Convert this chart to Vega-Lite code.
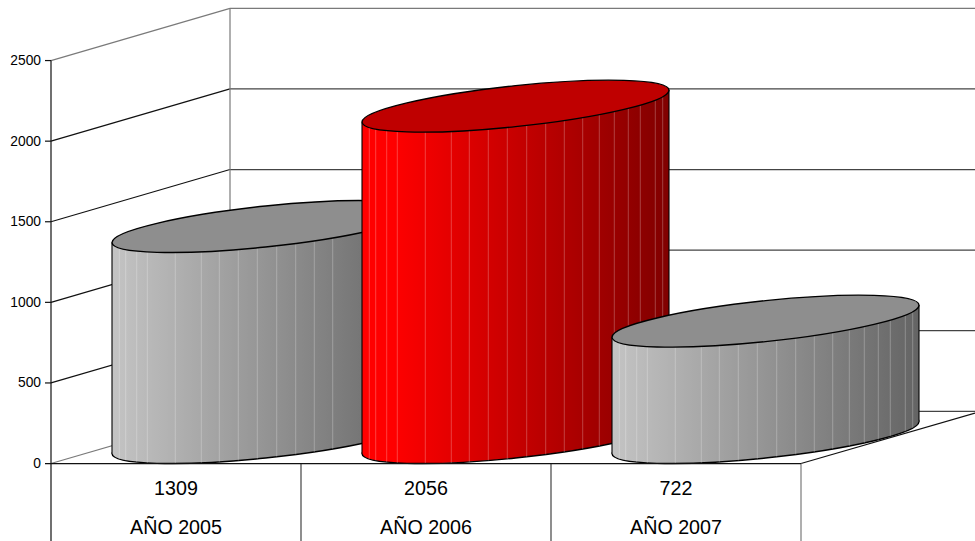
{
"$schema":"https://vega.github.io/schema/vega-lite/v6.json",
"width":975,"height":541,"padding":0,"autosize":{"type":"none"},
"background":"#ffffff",
"config":{"view":{"stroke":null},"axis":{"disable":true}},
"datasets":{
"lines":[
{"x":0,"y":0,"x2":0.716,"y2":324,"tone":"gray"},
{"x":0.716,"y":324,"x2":3.696,"y2":324,"tone":"mid"},
{"x":0,"y":500,"x2":0.716,"y2":824,"tone":"dark"},
{"x":0.716,"y":824,"x2":3.696,"y2":824,"tone":"mid"},
{"x":0,"y":1000,"x2":0.716,"y2":1324,"tone":"dark"},
{"x":0.716,"y":1324,"x2":3.696,"y2":1324,"tone":"mid"},
{"x":0,"y":1500,"x2":0.716,"y2":1824,"tone":"dark"},
{"x":0.716,"y":1824,"x2":3.696,"y2":1824,"tone":"mid"},
{"x":0,"y":2000,"x2":0.716,"y2":2324,"tone":"dark"},
{"x":0.716,"y":2324,"x2":3.696,"y2":2324,"tone":"mid"},
{"x":0,"y":2500,"x2":0.716,"y2":2824,"tone":"gray"},
{"x":0.716,"y":2824,"x2":3.696,"y2":2824,"tone":"gray"},
{"x":0.716,"y":324,"x2":0.716,"y2":2824,"tone":"gray"},
{"x":3,"y":0,"x2":3.696,"y2":313,"tone":"dark"},
{"x":0,"y":-484,"x2":0,"y2":2500,"tone":"dark"},
{"x":1,"y":-484,"x2":1,"y2":0,"tone":"mid"},
{"x":2,"y":-484,"x2":2,"y2":0,"tone":"mid"},
{"x":3,"y":-484,"x2":3,"y2":0,"tone":"gray"}
],
"base":[
{"x":-0.024,"y":0,"x2":3,"y2":0,"tone":"dark"},
{"x":-0.024,"y":500,"x2":0,"y2":500,"tone":"dark"},
{"x":-0.024,"y":1000,"x2":0,"y2":1000,"tone":"dark"},
{"x":-0.024,"y":1500,"x2":0,"y2":1500,"tone":"dark"},
{"x":-0.024,"y":2000,"x2":0,"y2":2000,"tone":"dark"},
{"x":-0.024,"y":2500,"x2":0,"y2":2500,"tone":"dark"}
],
"ticks":[{"v":0},{"v":500},{"v":1000},{"v":1500},{"v":2000},{"v":2500}],
"cyl":[
{"c":1,"cat":"AÑO 2005","v":1309,"xc":0.5},
{"c":2,"cat":"AÑO 2006","v":2056,"xc":1.5},
{"c":3,"cat":"AÑO 2007","v":722,"xc":2.5}
],
"edges":[
{"c":1,"x":0.244,"y":1371,"y2":62},
{"c":1,"x":1.472,"y":1570,"y2":261},
{"c":2,"x":1.244,"y":2118,"y2":62},
{"c":2,"x":2.472,"y":2317,"y2":261},
{"c":3,"x":2.244,"y":784,"y2":62},
{"c":3,"x":3.472,"y":983,"y2":261}
],
"facets":[
{"c":1,"x":0.2732,"y":1337,"y2":28},{"c":1,"x":0.2988,"y":1328,"y2":19},{"c":1,"x":0.3428,"y":1318,"y2":9},{"c":1,"x":0.3852,"y":1313,"y2":4},{"c":1,"x":0.4972,"y":1309,"y2":0},{"c":1,"x":0.6012,"y":1313,"y2":4},{"c":1,"x":0.6732,"y":1319,"y2":10},{"c":1,"x":0.7492,"y":1328,"y2":19},{"c":1,"x":0.8252,"y":1338,"y2":29},{"c":1,"x":0.9028,"y":1351,"y2":42},{"c":1,"x":0.9788,"y":1366,"y2":57},{"c":1,"x":1.0532,"y":1381,"y2":72},{"c":1,"x":1.1268,"y":1400,"y2":91},
{"c":2,"x":1.2732,"y":2084,"y2":28},{"c":2,"x":1.2988,"y":2075,"y2":19},{"c":2,"x":1.3428,"y":2065,"y2":9},{"c":2,"x":1.3852,"y":2060,"y2":4},{"c":2,"x":1.4972,"y":2056,"y2":0},{"c":2,"x":1.6012,"y":2060,"y2":4},{"c":2,"x":1.6732,"y":2066,"y2":10},{"c":2,"x":1.7492,"y":2075,"y2":19},{"c":2,"x":1.8252,"y":2085,"y2":29},{"c":2,"x":1.9028,"y":2098,"y2":42},{"c":2,"x":1.9788,"y":2113,"y2":57},{"c":2,"x":2.0532,"y":2128,"y2":72},{"c":2,"x":2.1268,"y":2147,"y2":91},{"c":2,"x":2.1932,"y":2165,"y2":109},{"c":2,"x":2.2532,"y":2184,"y2":128},{"c":2,"x":2.3092,"y":2204,"y2":148},{"c":2,"x":2.3572,"y":2224,"y2":168},{"c":2,"x":2.4172,"y":2255,"y2":199},{"c":2,"x":2.4468,"y":2276,"y2":220},
{"c":3,"x":2.2732,"y":750,"y2":28},{"c":3,"x":2.2988,"y":741,"y2":19},{"c":3,"x":2.3428,"y":731,"y2":9},{"c":3,"x":2.3852,"y":726,"y2":4},{"c":3,"x":2.4972,"y":722,"y2":0},{"c":3,"x":2.6012,"y":726,"y2":4},{"c":3,"x":2.6732,"y":732,"y2":10},{"c":3,"x":2.7492,"y":741,"y2":19},{"c":3,"x":2.8252,"y":751,"y2":29},{"c":3,"x":2.9028,"y":764,"y2":42},{"c":3,"x":2.9788,"y":779,"y2":57},{"c":3,"x":3.0532,"y":794,"y2":72},{"c":3,"x":3.1268,"y":813,"y2":91},{"c":3,"x":3.1932,"y":831,"y2":109},{"c":3,"x":3.2532,"y":850,"y2":128},{"c":3,"x":3.3092,"y":870,"y2":148},{"c":3,"x":3.3572,"y":890,"y2":168},{"c":3,"x":3.4172,"y":921,"y2":199},{"c":3,"x":3.4468,"y":942,"y2":220}
]
},
"layer":[
{"data":{"name":"lines"},"mark":{"type":"rule","strokeWidth":1.2},
 "encoding":{
  "x":{"field":"x","type":"quantitative","scale":{"domain":[-0.204,3.696],"nice":false,"zero":false}},
  "y":{"field":"y","type":"quantitative","scale":{"domain":[-480.5,2875.7],"nice":false,"zero":false}},
  "x2":{"field":"x2"},"y2":{"field":"y2"},
  "color":{"field":"tone","type":"nominal","legend":null,"scale":{"domain":["dark","mid","gray"],"range":["#111111","#444444","#7a7a7a"]}}}},
{"data":{"name":"ticks"},"mark":{"type":"text","align":"right","baseline":"middle","font":"Liberation Sans","fontSize":13.8,"color":"#000000","dy":0.5},
 "encoding":{"x":{"datum":-0.04,"type":"quantitative"},"y":{"field":"v","type":"quantitative"},"text":{"field":"v","type":"nominal"}}},

{"data":{"name":"cyl"},"transform":[{"filter":"datum.c==1"}],"mark":{"type":"point","filled":true,"opacity":1,"size":94249,"shape":"M1 -.104C1 -.0302 .5523 .0762 0 .1336C-.5523 .191 -1 .1778 -1 .104C-1 .0302 -.5523 -.0762 0 -.1336C.5523 -.191 1 -.1778 1 -.104Z","xOffset":89.5,"yOffset":-26,"stroke":"#000000","strokeWidth":1.4,"fill":{"gradient":"linear","x1":0,"x2":1,"y1":0,"y2":0,"stops":[{"offset":0,"color":"#c4c4c4"},{"offset":1,"color":"#646464"}]}},
 "encoding":{"x":{"field":"xc","type":"quantitative"},"y":{"datum":0,"type":"quantitative"}}},
{"data":{"name":"edges"},"transform":[{"filter":"datum.c==1"}],"mark":{"type":"area","fill":{"gradient":"linear","x1":0,"x2":1,"y1":0,"y2":0,"stops":[{"offset":0,"color":"#c4c4c4"},{"offset":1,"color":"#646464"}]}},
 "encoding":{"x":{"field":"x","type":"quantitative"},"y":{"field":"y","type":"quantitative"},"y2":{"field":"y2"}}},
{"data":{"name":"facets"},"transform":[{"filter":"datum.c==1"}],"mark":{"type":"rule","color":"#ffffff","opacity":0.25,"strokeWidth":1},
 "encoding":{"x":{"field":"x","type":"quantitative"},"y":{"field":"y","type":"quantitative"},"y2":{"field":"y2"}}},
{"data":{"name":"edges"},"transform":[{"filter":"datum.c==1"}],"mark":{"type":"rule","color":"#000000","strokeWidth":1.1},
 "encoding":{"x":{"field":"x","type":"quantitative"},"y":{"field":"y","type":"quantitative"},"y2":{"field":"y2"}}},
{"data":{"name":"cyl"},"transform":[{"filter":"datum.c==1"}],"mark":{"type":"point","filled":true,"opacity":1,"size":94249,"shape":"M1 -.104C1 -.0302 .5523 .0762 0 .1336C-.5523 .191 -1 .1778 -1 .104C-1 .0302 -.5523 -.0762 0 -.1336C.5523 -.191 1 -.1778 1 -.104Z","xOffset":89.5,"yOffset":-26,"stroke":"#000000","strokeWidth":1.4,"fill":"#8e8e8e"},
 "encoding":{"x":{"field":"xc","type":"quantitative"},"y":{"field":"v","type":"quantitative"}}},

{"data":{"name":"cyl"},"transform":[{"filter":"datum.c==2"}],"mark":{"type":"point","filled":true,"opacity":1,"size":94249,"shape":"M1 -.104C1 -.0302 .5523 .0762 0 .1336C-.5523 .191 -1 .1778 -1 .104C-1 .0302 -.5523 -.0762 0 -.1336C.5523 -.191 1 -.1778 1 -.104Z","xOffset":89.5,"yOffset":-26,"stroke":"#000000","strokeWidth":1.4,"fill":{"gradient":"linear","x1":0,"x2":1,"y1":0,"y2":0,"stops":[{"offset":0,"color":"#ff0000"},{"offset":0.1,"color":"#ff0000"},{"offset":1,"color":"#800000"}]}},
 "encoding":{"x":{"field":"xc","type":"quantitative"},"y":{"datum":0,"type":"quantitative"}}},
{"data":{"name":"edges"},"transform":[{"filter":"datum.c==2"}],"mark":{"type":"area","fill":{"gradient":"linear","x1":0,"x2":1,"y1":0,"y2":0,"stops":[{"offset":0,"color":"#ff0000"},{"offset":0.1,"color":"#ff0000"},{"offset":1,"color":"#800000"}]}},
 "encoding":{"x":{"field":"x","type":"quantitative"},"y":{"field":"y","type":"quantitative"},"y2":{"field":"y2"}}},
{"data":{"name":"facets"},"transform":[{"filter":"datum.c==2"}],"mark":{"type":"rule","color":"#ffffff","opacity":0.25,"strokeWidth":1},
 "encoding":{"x":{"field":"x","type":"quantitative"},"y":{"field":"y","type":"quantitative"},"y2":{"field":"y2"}}},
{"data":{"name":"edges"},"transform":[{"filter":"datum.c==2"}],"mark":{"type":"rule","color":"#000000","strokeWidth":1.1},
 "encoding":{"x":{"field":"x","type":"quantitative"},"y":{"field":"y","type":"quantitative"},"y2":{"field":"y2"}}},
{"data":{"name":"cyl"},"transform":[{"filter":"datum.c==2"}],"mark":{"type":"point","filled":true,"opacity":1,"size":94249,"shape":"M1 -.104C1 -.0302 .5523 .0762 0 .1336C-.5523 .191 -1 .1778 -1 .104C-1 .0302 -.5523 -.0762 0 -.1336C.5523 -.191 1 -.1778 1 -.104Z","xOffset":89.5,"yOffset":-26,"stroke":"#000000","strokeWidth":1.4,"fill":"#bf0000"},
 "encoding":{"x":{"field":"xc","type":"quantitative"},"y":{"field":"v","type":"quantitative"}}},

{"data":{"name":"cyl"},"transform":[{"filter":"datum.c==3"}],"mark":{"type":"point","filled":true,"opacity":1,"size":94249,"shape":"M1 -.104C1 -.0302 .5523 .0762 0 .1336C-.5523 .191 -1 .1778 -1 .104C-1 .0302 -.5523 -.0762 0 -.1336C.5523 -.191 1 -.1778 1 -.104Z","xOffset":89.5,"yOffset":-26,"stroke":"#000000","strokeWidth":1.4,"fill":{"gradient":"linear","x1":0,"x2":1,"y1":0,"y2":0,"stops":[{"offset":0,"color":"#c4c4c4"},{"offset":1,"color":"#646464"}]}},
 "encoding":{"x":{"field":"xc","type":"quantitative"},"y":{"datum":0,"type":"quantitative"}}},
{"data":{"name":"edges"},"transform":[{"filter":"datum.c==3"}],"mark":{"type":"area","fill":{"gradient":"linear","x1":0,"x2":1,"y1":0,"y2":0,"stops":[{"offset":0,"color":"#c4c4c4"},{"offset":1,"color":"#646464"}]}},
 "encoding":{"x":{"field":"x","type":"quantitative"},"y":{"field":"y","type":"quantitative"},"y2":{"field":"y2"}}},
{"data":{"name":"facets"},"transform":[{"filter":"datum.c==3"}],"mark":{"type":"rule","color":"#ffffff","opacity":0.25,"strokeWidth":1},
 "encoding":{"x":{"field":"x","type":"quantitative"},"y":{"field":"y","type":"quantitative"},"y2":{"field":"y2"}}},
{"data":{"name":"edges"},"transform":[{"filter":"datum.c==3"}],"mark":{"type":"rule","color":"#000000","strokeWidth":1.1},
 "encoding":{"x":{"field":"x","type":"quantitative"},"y":{"field":"y","type":"quantitative"},"y2":{"field":"y2"}}},
{"data":{"name":"cyl"},"transform":[{"filter":"datum.c==3"}],"mark":{"type":"point","filled":true,"opacity":1,"size":94249,"shape":"M1 -.104C1 -.0302 .5523 .0762 0 .1336C-.5523 .191 -1 .1778 -1 .104C-1 .0302 -.5523 -.0762 0 -.1336C.5523 -.191 1 -.1778 1 -.104Z","xOffset":89.5,"yOffset":-26,"stroke":"#000000","strokeWidth":1.4,"fill":"#8e8e8e"},
 "encoding":{"x":{"field":"xc","type":"quantitative"},"y":{"field":"v","type":"quantitative"}}},

{"data":{"name":"base"},"mark":{"type":"rule","color":"#111111","strokeWidth":1.2},
 "encoding":{"x":{"field":"x","type":"quantitative"},"y":{"field":"y","type":"quantitative"},"x2":{"field":"x2"},"y2":{"field":"y2"}}},
{"data":{"name":"cyl"},"mark":{"type":"text","align":"center","baseline":"middle","font":"Liberation Sans","fontSize":19.7,"color":"#000000"},
 "encoding":{"x":{"field":"xc","type":"quantitative"},"y":{"datum":-155,"type":"quantitative"},"text":{"field":"v","type":"nominal"}}},
{"data":{"name":"cyl"},"mark":{"type":"text","align":"center","baseline":"middle","font":"Liberation Sans","fontSize":19.7,"color":"#000000"},
 "encoding":{"x":{"field":"xc","type":"quantitative"},"y":{"datum":-397,"type":"quantitative"},"text":{"field":"cat","type":"nominal"}}}
]
}
